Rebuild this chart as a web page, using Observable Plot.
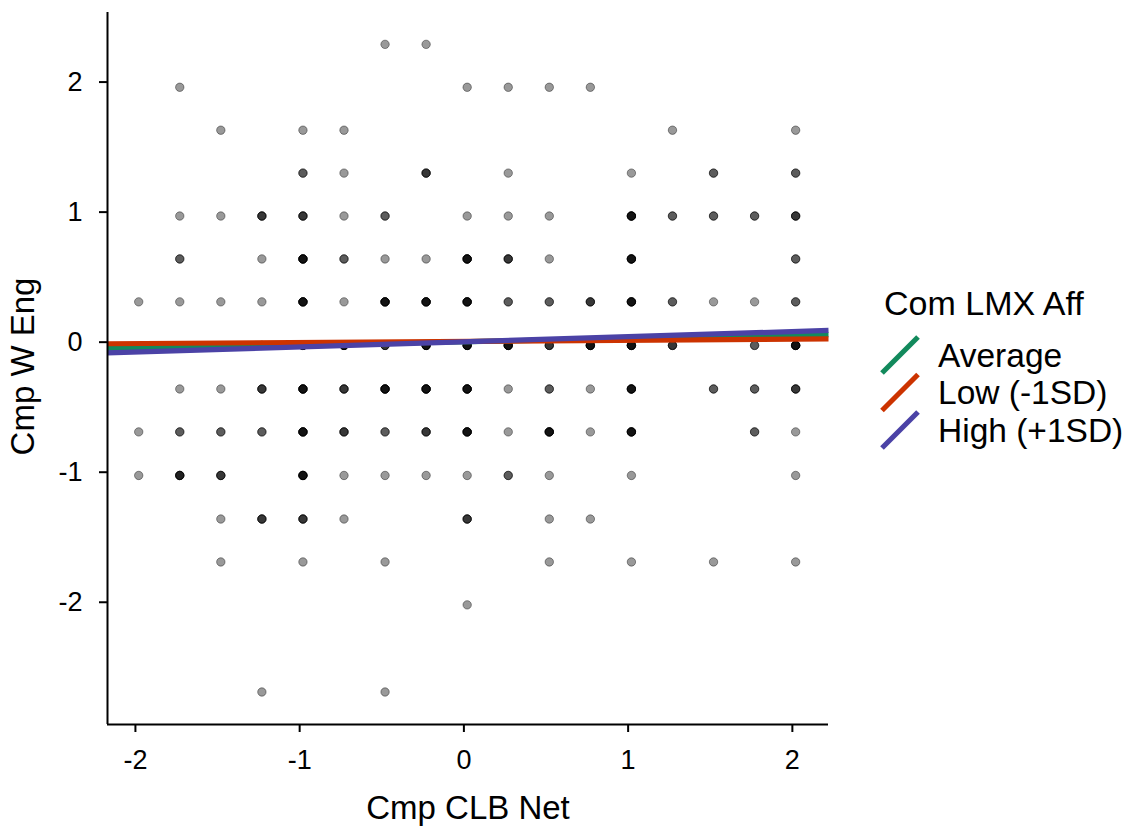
<!DOCTYPE html>
<html>
<head>
<meta charset="utf-8">
<script src="https://cdn.jsdelivr.net/npm/d3@7"></script>
<script src="https://cdn.jsdelivr.net/npm/@observablehq/plot@0.6"></script>
<style>
  html, body { margin: 0; padding: 0; background: #fff; }
  #wrap { position: relative; width: 1145px; height: 827px; font-family: "Liberation Sans", Arial, sans-serif; }
  #legend { position: absolute; left: 860px; top: 270px; }
</style>
</head>
<body>
<div id="wrap"><div id="chart"></div><div id="legend"></div></div>
<script>
// ---- data ----
const xLevels = [-1.98,-1.73,-1.48,-1.23,-0.98,-0.73,-0.48,-0.23,0.02,0.27,0.52,0.77,1.02,1.27,1.52,1.77,2.02];
const yLevels = [2.29,1.96,1.63,1.30,0.97,0.64,0.31,-0.025,-0.36,-0.69,-1.025,-1.36,-1.69,-2.02,-2.69];
// number of overlapping observations at each (yLevel row, xLevel column)
const pointCounts = [
  [0,0,0,0,0,0,1,1,0,0,0,0,0,0,0,0,0],
  [0,1,0,0,0,0,0,0,1,1,1,1,0,0,0,0,0],
  [0,0,1,0,1,1,0,0,0,0,0,0,0,1,0,0,1],
  [0,0,0,0,2,1,0,3,0,1,0,0,1,0,2,0,2],
  [0,1,1,3,3,1,2,0,1,1,1,0,5,2,2,2,3],
  [0,2,0,1,5,2,1,1,5,3,1,0,5,0,0,0,2],
  [1,1,1,1,5,1,5,5,5,2,2,3,5,2,1,1,2],
  [0,0,0,2,5,5,3,5,5,5,3,5,5,3,0,2,5],
  [0,1,1,3,5,3,5,5,5,1,2,1,5,0,2,2,3],
  [1,2,2,2,5,3,2,3,5,1,5,1,5,0,0,2,1],
  [1,4,3,0,5,1,1,1,1,2,1,0,1,0,0,0,1],
  [0,0,1,3,3,1,0,0,3,0,1,1,0,0,0,0,0],
  [0,0,1,0,1,0,1,0,0,0,1,0,1,0,1,0,1],
  [0,0,0,0,0,0,0,0,1,0,0,0,0,0,0,0,0],
  [0,0,0,1,0,0,1,0,0,0,0,0,0,0,0,0,0]
];
const lineGroups = ["Average", "Low (-1SD)", "High (+1SD)"];
const lineColors = ["#128a5c", "#cc3300", "#4b42a6"];
const lineStartY = [-0.048, -0.012, -0.083];
const lineEndY = [0.057, 0.025, 0.090];
const xDomain = [-2.17, 2.22];
const yDomain = [-2.94, 2.535];
const xTicks = [-2, -1, 0, 1, 2];
const yTicks = [-2, -1, 0, 1, 2];
const xTitle = "Cmp CLB Net";
const yTitle = "Cmp W Eng";
const legendTitle = "Com LMX Aff";

// ---- build tables ----
const points = [];
pointCounts.forEach((row, i) => row.forEach((c, j) => {
  for (let k = 0; k < c; k++) points.push({x: xLevels[j], y: yLevels[i]});
}));
const lines = [];
lineGroups.forEach((g, i) => {
  lines.push({group: g, x: xDomain[0], y: lineStartY[i]});
  lines.push({group: g, x: xDomain[1], y: lineEndY[i]});
});
const fmt = d => (d < 0 ? "-" + Math.abs(d) : String(d));
const FONT = "Liberation Sans, Arial, sans-serif";

const chart = Plot.plot({
  width: 1145,
  height: 827,
  marginLeft: 107,
  marginRight: 317,
  marginTop: 12,
  marginBottom: 103,
  style: {fontFamily: FONT, background: "white", color: "black"},
  x: {domain: xDomain},
  y: {domain: yDomain},
  color: {domain: lineGroups, range: lineColors},
  marks: [
    Plot.dot(points, {x: "x", y: "y", r: 4.2, fill: "black", fillOpacity: 0.4, stroke: "black", strokeOpacity: 0.4, strokeWidth: 1}),
    Plot.line(lines, {x: "x", y: "y", z: "group", stroke: "group", strokeWidth: 5.2, strokeLinecap: "butt"}),
    Plot.ruleX([xDomain[0]], {stroke: "black", strokeWidth: 2}),
    Plot.ruleY([yDomain[0]], {stroke: "black", strokeWidth: 2}),
    Plot.axisX({ticks: xTicks, tickFormat: fmt, tickSize: 8, tickPadding: 17, fontSize: 27, label: null, strokeWidth: 2}),
    Plot.axisY({ticks: yTicks, tickFormat: fmt, tickSize: 8, tickPadding: 17, fontSize: 27, label: null, strokeWidth: 2}),
    Plot.text([xTitle], {frameAnchor: "bottom", text: d => d, dy: 94, lineAnchor: "bottom", fontSize: 33, fill: "black"}),
    Plot.text([yTitle], {frameAnchor: "left", text: d => d, rotate: -90, textAnchor: "middle", dx: -74, dy: -2, lineAnchor: "bottom", fontSize: 33, fill: "black"})
  ]
});
document.getElementById("chart").appendChild(chart);

// ---- legend ----
const lg = d3.select("#legend").append("svg").attr("width", 285).attr("height", 200)
  .style("font-family", FONT);
lg.append("text").attr("x", 24).attr("y", 45).attr("font-size", 34).attr("fill", "black").text(legendTitle);
lineGroups.forEach((g, i) => {
  const cy = 85 + i * 37.5;
  lg.append("line").attr("x1", 22).attr("y1", cy + 18).attr("x2", 58).attr("y2", cy - 18)
    .attr("stroke", lineColors[i]).attr("stroke-width", 5.2);
  lg.append("text").attr("x", 78).attr("y", cy + 11.5).attr("font-size", 33.5).attr("fill", "black").text(g);
});
</script>
</body>
</html>
